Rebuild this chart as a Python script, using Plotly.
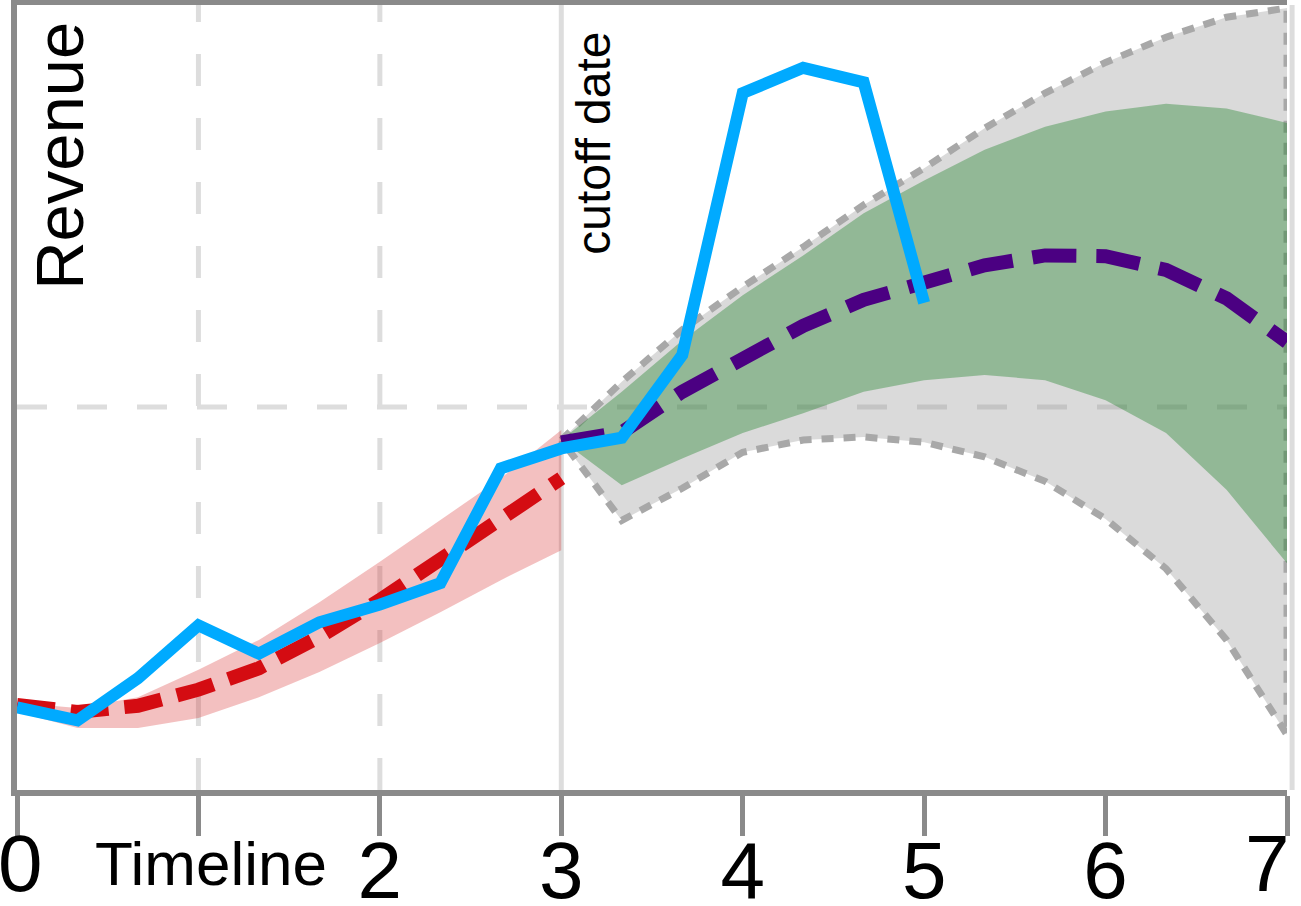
# Revenue forecast chart - actuals vs fitted vs forecast bands

import plotly.graph_objects as go


# DATA

# history (every third of a period up to the cutoff)
hist_t = [0, 1/3, 2/3, 1, 4/3, 5/3, 2, 7/3, 8/3, 3]
fit_mean = [11.1, 10.2, 11.0, 13.1, 15.9, 20.0, 24.8, 30.0, 35.5, 40.7]
fit_upper = [11.4, 10.7, 12.1, 15.7, 19.6, 24.5, 29.8, 35.2, 40.7, 47.0]
fit_lower = [10.2, 8.1, 8.1, 9.4, 12.1, 15.4, 19.2, 23.2, 27.4, 31.3]

# actual revenue
actual_t = [0, 1/3, 2/3, 1, 4/3, 5/3, 2, 7/3, 8/3, 3, 10/3, 11/3, 4, 13/3, 14/3, 5]
actual = [10.8, 9.1, 14.6, 21.5, 17.8, 21.9, 24.2, 27.0, 42.0, 44.6, 46.0, 56.8, 91.0, 94.3, 92.4, 63.6]

# forecast after the cutoff
fc_t = [3, 10/3, 11/3, 4, 13/3, 14/3, 5, 16/3, 17/3, 6, 19/3, 20/3, 7]
fc_mean = [45.4, 46.7, 52.0, 56.4, 60.6, 64.0, 66.2, 68.5, 69.8, 69.7, 67.9, 64.2, 58.5]
fc_inner_upper = [45.7, 52.0, 58.7, 64.6, 69.8, 75.3, 79.6, 83.6, 86.6, 88.6, 89.6, 89.0, 87.1]
fc_inner_lower = [45.7, 39.8, 43.3, 46.6, 49.2, 52.0, 53.5, 54.2, 53.5, 50.9, 46.6, 39.2, 29.6]
fc_outer_upper = [45.7, 53.3, 60.1, 65.7, 70.9, 76.4, 81.2, 86.4, 91.0, 95.0, 98.3, 100.9, 102.1]
fc_outer_lower = [45.7, 35.2, 39.4, 44.1, 45.7, 46.1, 45.4, 43.5, 40.3, 35.4, 28.9, 19.6, 7.2]

tick_vals = [0, 1, 2, 3, 4, 5, 6, 7]
tick_text = ['', '', '2', '3', '4', '5', '6', '']

cutoff = 3
grid_y = 50

FONT = 'Liberation Sans, Arial, Helvetica, sans-serif'
AXIS_GREY = '#8a8a8a'
GRID_GREY = '#dddddd'


# GRAPH

fig = go.Figure()

# outer band (polygon with dotted outline)
fig.add_trace(go.Scatter(
    x=fc_t + fc_t[::-1], y=fc_outer_upper + fc_outer_lower[::-1],
    fill='toself', fillcolor='rgba(150,150,150,0.35)',
    line=dict(color='#a8a8a8', width=7, dash='12px,10px'),
    mode='lines', hoverinfo='skip'))

# inner band
fig.add_trace(go.Scatter(
    x=fc_t + fc_t[::-1], y=fc_inner_upper + fc_inner_lower[::-1],
    fill='toself', fillcolor='rgba(20,125,30,0.36)',
    line=dict(width=0), mode='lines', hoverinfo='skip'))

# in-sample fit band
fig.add_trace(go.Scatter(
    x=hist_t + hist_t[::-1], y=fit_upper + fit_lower[::-1],
    fill='toself', fillcolor='rgba(215,45,45,0.3)',
    line=dict(width=0), mode='lines', hoverinfo='skip'))

# fitted mean
fig.add_trace(go.Scatter(
    x=hist_t, y=fit_mean, mode='lines',
    line=dict(color='#d40c12', width=14, dash='38px,16px')))

# forecast mean
fig.add_trace(go.Scatter(
    x=fc_t, y=fc_mean, mode='lines',
    line=dict(color='#4b0082', width=14, dash='44px,20px')))

# actual revenue
fig.add_trace(go.Scatter(
    x=actual_t, y=actual, mode='lines',
    line=dict(color='#00aaff', width=12)))

# guide lines
shapes = []
for gx in [1, 2]:
    shapes.append(dict(type='line', xref='x', yref='paper', x0=gx, x1=gx, y0=0, y1=1,
                       line=dict(color=GRID_GREY, width=5, dash='32px,32px'), layer='below'))
shapes.append(dict(type='line', xref='paper', yref='y', x0=0, x1=1, y0=grid_y, y1=grid_y,
                   line=dict(color=GRID_GREY, width=5, dash='30px,30px'), layer='below'))
shapes.append(dict(type='line', xref='x', yref='paper', x0=cutoff, x1=cutoff, y0=0, y1=1,
                   line=dict(color=GRID_GREY, width=5), layer='below'))
shapes.append(dict(type='line', xref='paper', yref='paper', x0=1.004, x1=1.004, y0=0, y1=1,
                   line=dict(color=GRID_GREY, width=5), layer='below'))

annotations = [
    dict(text='Revenue', x=0.237, y=82.8, xref='x', yref='y', textangle=-90,
         showarrow=False, xanchor='center', yanchor='middle',
         font=dict(family=FONT, size=67, color='black')),
    dict(text='cutoff date', x=3.18, y=84.5, xref='x', yref='y', textangle=-90,
         showarrow=False, xanchor='center', yanchor='middle',
         font=dict(family=FONT, size=48, color='black')),
    dict(text='Timeline', x=1.07, y=-0.094, xref='x', yref='paper',
         showarrow=False, xanchor='center', yanchor='middle',
         font=dict(family=FONT, size=62, color='black')),
    dict(text='0', x=0, y=-0.094, xref='x', yref='paper', xshift=3,
         showarrow=False, xanchor='center', yanchor='middle',
         font=dict(family=FONT, size=80, color='black')),
    dict(text='7', x=7, y=-0.094, xref='x', yref='paper', xshift=-20,
         showarrow=False, xanchor='center', yanchor='middle',
         font=dict(family=FONT, size=80, color='black')),
]

fig.update_layout(
    width=1301, height=906,
    margin=dict(l=17, r=14, t=5, b=116, autoexpand=False),
    paper_bgcolor='white', plot_bgcolor='white',
    showlegend=False,
    shapes=shapes, annotations=annotations,
    xaxis=dict(range=[0, 7], tickvals=tick_vals, ticktext=tick_text,
               showgrid=False, zeroline=False, automargin=False,
               showline=True, linecolor=AXIS_GREY, linewidth=6, mirror=True,
               ticks='outside', ticklen=40, tickwidth=5, tickcolor=AXIS_GREY,
               ticklabelstandoff=-34,
               tickfont=dict(family=FONT, size=80, color='black')),
    yaxis=dict(range=[0, 102.5], showgrid=False, zeroline=False,
               showticklabels=False, ticks='', automargin=False,
               showline=True, linecolor=AXIS_GREY, linewidth=6),
)

# page body has a default 8px margin, drop it so the figure sits at the corner
fig.write_html("out.html", config={'displayModeBar': False},
               post_script="document.body.style.margin='0px';")
